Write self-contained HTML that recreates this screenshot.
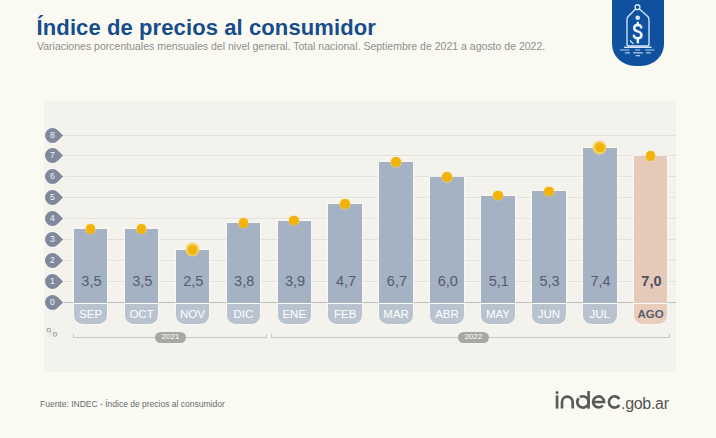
<!DOCTYPE html>
<html><head><meta charset="utf-8">
<style>
html,body{margin:0;padding:0;}
body{width:716px;height:438px;overflow:hidden;background:#fafaf3;position:relative;font-family:"Liberation Sans",sans-serif;}
.abs{position:absolute;}
#title{position:absolute;left:36.6px;top:15px;font-size:22px;font-weight:bold;color:#164d8a;white-space:nowrap;letter-spacing:0.1px;}
#sub{position:absolute;left:37.3px;top:39.5px;font-size:11px;color:#8e8e8c;white-space:nowrap;transform-origin:0 0;transform:scaleX(0.956);}
#badge{position:absolute;left:612px;top:-2px;width:51.5px;height:68px;background:#0f519e;border-radius:0 0 23px 23px / 0 0 22px 22px;}
#panel{position:absolute;left:44px;top:101px;width:632px;height:271px;background:#f3f2ec;}
.gl{position:absolute;left:60px;width:616px;height:1px;background:#e2e1da;box-shadow:0 1px 0 rgba(255,255,255,0.35);}
.bl{position:absolute;left:60px;width:616px;height:1px;background:#bebfbd;}
.drop{position:absolute;left:45px;width:15px;height:15px;background:#80889c;border-radius:50% 0 50% 50%;transform:rotate(45deg);box-shadow:0 0 0 1px rgba(255,255,255,0.4);}
.dn{position:absolute;left:45px;width:15px;height:15px;line-height:15px;text-align:center;font-size:8.6px;color:#f4f5f8;}
.bar{position:absolute;width:33.5px;box-shadow:0 0 0 1.5px rgba(255,255,255,0.4);}
.tab{position:absolute;top:304.3px;width:33.5px;height:19.3px;border-radius:0 0 8.5px 8.5px;box-shadow:0 0 0 1px rgba(255,255,255,0.35);color:#fff;font-size:11.5px;text-align:center;line-height:20px;}
.tab.last{color:#585d6e;font-weight:bold;}
.val{position:absolute;top:273px;width:33.5px;text-align:center;font-size:14.5px;line-height:16px;color:#535d70;}
.val.last{font-weight:bold;color:#4a5064;}
.dot{position:absolute;width:9.6px;height:9.6px;border-radius:50%;background:#f1b30a;box-shadow:0 0 1px 0.6px rgba(250,215,110,0.8);}
.ring{position:absolute;width:13.2px;height:13.2px;border-radius:50%;background:#f5cf5c;box-shadow:0 0 1px 0.5px rgba(250,220,120,0.8);}
#pct{position:absolute;left:46px;top:327px;font-size:12px;color:#bdbdbb;}
.brk{position:absolute;top:336.5px;height:1px;background:#c9c8c1;}
.tick{position:absolute;top:333.5px;width:1px;height:4px;background:#c9c8c1;}
.pill{position:absolute;top:332px;width:31px;height:10.5px;border-radius:5.5px;background:#a7a7a4;color:#fff;font-size:8px;line-height:10.5px;text-align:center;}
#foot{position:absolute;left:40px;top:399px;font-size:8.5px;color:#6a6a6a;white-space:nowrap;}
#gob{position:absolute;left:621px;top:394.5px;font-size:16px;color:#555;letter-spacing:-0.3px;white-space:nowrap;}
</style></head><body>
<div id="title">Índice de precios al consumidor</div>
<div id="sub">Variaciones porcentuales mensuales del nivel general. Total nacional. Septiembre de 2021 a agosto de 2022.</div>
<div id="badge">
<svg width="51" height="68" viewBox="0 -2 51 68" style="position:absolute;left:0;top:0">
<g fill="none" stroke="#d6e6f7" stroke-width="1.35" stroke-linecap="round" stroke-linejoin="round">
<circle cx="25.5" cy="7.2" r="2.4"/>
<path d="M23.6 9 L16.2 16.5 Q15 17.8 15 19.5 L15 44 Q15 46 17 46 L35 46 Q37 46 37 44 L37 19.5 Q37 17.8 35.8 16.5 L27.4 9"/>
<path d="M18.3 40.8 L21 43.6"/>
<path d="M12.5 47.2 L39 47.2"/>
</g>
<g fill="none" stroke="#b4d0ee" stroke-width="1.2">
<path d="M7.8 50 L17.5 50 M23.2 50 L28.2 50 M33.2 50 L42.6 50"/>
<path d="M13 52.9 L17.8 52.9 M21.2 52.9 L31 52.9 M34.1 52.9 L38.8 52.9"/>
<path d="M23.7 55.7 L28.1 55.7"/>
</g>
<circle cx="25.7" cy="17.7" r="2.3" fill="#dce9f6"/>
<g fill="none" stroke="#eef5fc" stroke-width="2.5" stroke-linecap="round">
<path d="M25.8 22.9 L25.8 25"/>
<path d="M29.3 27.4 Q28.7 25 25.7 25 Q22.2 25 22.2 28 Q22.2 30.6 25.7 31.4 Q29.5 32.4 29.5 35.3 Q29.5 38.3 25.7 38.3 Q22.5 38.3 21.9 35.8"/>
<path d="M25.8 38.3 L25.8 42.2"/>
</g>
</svg>
</div>
<div id="panel"></div>
<div class="gl" style="top:280.725px"></div>
<div class="gl" style="top:259.850px"></div>
<div class="gl" style="top:238.975px"></div>
<div class="gl" style="top:218.100px"></div>
<div class="gl" style="top:197.225px"></div>
<div class="gl" style="top:176.350px"></div>
<div class="gl" style="top:155.475px"></div>
<div class="gl" style="top:134.600px"></div>
<div class="bl" style="top:302px"></div>
<div class="drop" style="top:294.60px"></div><div class="dn" style="top:294.60px">0</div>
<div class="drop" style="top:273.73px"></div><div class="dn" style="top:273.73px">1</div>
<div class="drop" style="top:252.85px"></div><div class="dn" style="top:252.85px">2</div>
<div class="drop" style="top:231.98px"></div><div class="dn" style="top:231.98px">3</div>
<div class="drop" style="top:211.10px"></div><div class="dn" style="top:211.10px">4</div>
<div class="drop" style="top:190.23px"></div><div class="dn" style="top:190.23px">5</div>
<div class="drop" style="top:169.35px"></div><div class="dn" style="top:169.35px">6</div>
<div class="drop" style="top:148.48px"></div><div class="dn" style="top:148.48px">7</div>
<div class="drop" style="top:127.60px"></div><div class="dn" style="top:127.60px">8</div>
<div class="bar" style="left:73.90px;top:229.04px;height:73.96px;background:#a4b2c3"></div>
<div class="tab" style="left:73.90px;background:#b8c3cf">SEP</div>
<div class="val" style="left:74.70px">3,5</div>
<div class="dot" style="left:85.85px;top:224.24px"></div>
<div class="bar" style="left:124.81px;top:229.04px;height:73.96px;background:#a4b2c3"></div>
<div class="tab" style="left:124.81px;background:#b8c3cf">OCT</div>
<div class="val" style="left:125.61px">3,5</div>
<div class="dot" style="left:136.76px;top:224.24px"></div>
<div class="bar" style="left:175.72px;top:249.91px;height:53.09px;background:#a4b2c3"></div>
<div class="tab" style="left:175.72px;background:#b8c3cf">NOV</div>
<div class="val" style="left:176.52px">2,5</div>
<div class="ring" style="left:185.87px;top:243.31px"></div>
<div class="dot" style="left:187.67px;top:245.11px"></div>
<div class="bar" style="left:226.63px;top:222.78px;height:80.22px;background:#a4b2c3"></div>
<div class="tab" style="left:226.63px;background:#b8c3cf">DIC</div>
<div class="val" style="left:227.43px">3,8</div>
<div class="dot" style="left:238.58px;top:217.98px"></div>
<div class="bar" style="left:277.54px;top:220.69px;height:82.31px;background:#a4b2c3"></div>
<div class="tab" style="left:277.54px;background:#b8c3cf">ENE</div>
<div class="val" style="left:278.34px">3,9</div>
<div class="dot" style="left:289.49px;top:215.89px"></div>
<div class="bar" style="left:328.45px;top:203.99px;height:99.01px;background:#a4b2c3"></div>
<div class="tab" style="left:328.45px;background:#b8c3cf">FEB</div>
<div class="val" style="left:329.25px">4,7</div>
<div class="dot" style="left:340.40px;top:199.19px"></div>
<div class="bar" style="left:379.36px;top:162.24px;height:140.76px;background:#a4b2c3"></div>
<div class="tab" style="left:379.36px;background:#b8c3cf">MAR</div>
<div class="val" style="left:380.16px">6,7</div>
<div class="dot" style="left:391.31px;top:157.44px"></div>
<div class="bar" style="left:430.27px;top:176.85px;height:126.15px;background:#a4b2c3"></div>
<div class="tab" style="left:430.27px;background:#b8c3cf">ABR</div>
<div class="val" style="left:431.07px">6,0</div>
<div class="dot" style="left:442.22px;top:172.05px"></div>
<div class="bar" style="left:481.18px;top:195.64px;height:107.36px;background:#a4b2c3"></div>
<div class="tab" style="left:481.18px;background:#b8c3cf">MAY</div>
<div class="val" style="left:481.98px">5,1</div>
<div class="dot" style="left:493.13px;top:190.84px"></div>
<div class="bar" style="left:532.09px;top:191.46px;height:111.54px;background:#a4b2c3"></div>
<div class="tab" style="left:532.09px;background:#b8c3cf">JUN</div>
<div class="val" style="left:532.89px">5,3</div>
<div class="dot" style="left:544.04px;top:186.66px"></div>
<div class="bar" style="left:583.00px;top:147.63px;height:155.37px;background:#a4b2c3"></div>
<div class="tab" style="left:583.00px;background:#b8c3cf">JUL</div>
<div class="val" style="left:583.80px">7,4</div>
<div class="ring" style="left:593.15px;top:141.03px"></div>
<div class="dot" style="left:594.95px;top:142.83px"></div>
<div class="bar" style="left:633.91px;top:155.98px;height:147.02px;background:#e6cab9"></div>
<div class="tab last" style="left:633.91px;background:#e8cdbd">AGO</div>
<div class="val last" style="left:634.71px">7,0</div>
<div class="dot" style="left:645.86px;top:151.18px"></div>
<svg class="abs" style="left:44px;top:326px" width="16" height="12" viewBox="44 326 16 12"><g fill="none" stroke="#a9a9a7" stroke-width="1.1"><circle cx="48.75" cy="330.2" r="1.8"/><circle cx="54.95" cy="334.4" r="1.8"/></g><path d="M55 327.5 L48.7 337" stroke="#dedcd6" stroke-width="0.8"/></svg>
<div class="brk" style="left:73px;width:193.5px"></div>
<div class="tick" style="left:73px"></div>
<div class="tick" style="left:265.5px"></div>
<div class="brk" style="left:270.5px;width:399.5px"></div>
<div class="tick" style="left:270.5px"></div>
<div class="tick" style="left:669px"></div>
<div class="pill" style="left:155px">2021</div>
<div class="pill" style="left:457.8px">2022</div>
<div id="foot">Fuente: INDEC - Índice de precios al consumidor</div>
<svg class="abs" style="left:550px;top:385px" width="75" height="30" viewBox="550 385 75 30">
<g fill="none" stroke="#5a5a5a" stroke-width="2.65">
<path d="M557.05 395.4 L557.05 408.6"/>
<path d="M562 408.6 L562 402 A5.35 5.35 0 0 1 572.7 402 L572.7 408.6"/>
<path d="M579.96 397.16 A5.65 5.65 0 1 1 578.75 398.17"/>
<path d="M588.6 391 L588.6 408.7"/>
<path d="M593.1 401.95 L604.10 401.95 A5.5 5.5 0 1 0 602.81 405.49"/>
<path d="M619.34 398.96 A5.65 5.65 0 1 0 619.34 404.94"/>
</g>
<circle cx="557.05" cy="392.6" r="1.5" fill="#5a5a5a"/>
</svg>
<div id="gob">.gob.ar</div>
</body></html>
